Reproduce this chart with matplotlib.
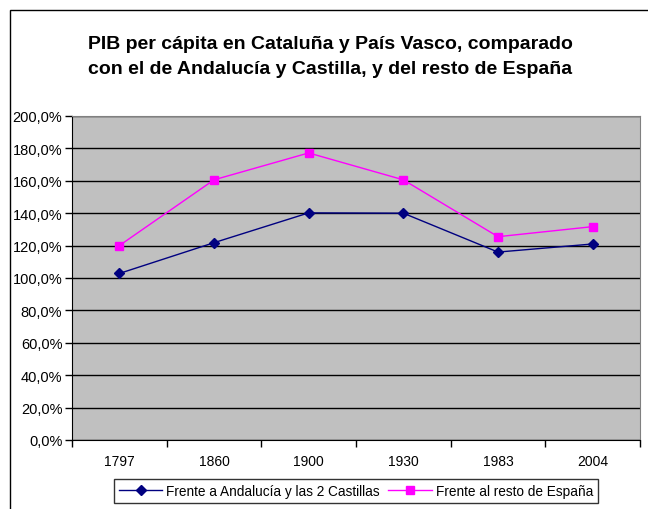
import matplotlib.pyplot as plt
from matplotlib.patches import Rectangle
from matplotlib.ticker import FuncFormatter, FixedLocator

plt.rcParams['font.family'] = ['Liberation Sans', 'DejaVu Sans']

anios = ['1797', '1860', '1900', '1930', '1983', '2004']
frente_andalucia_castillas = [102.8, 121.8, 140.2, 140.0, 116.0, 121.0]
frente_resto_espana = [120.0, 160.6, 177.2, 160.6, 125.5, 131.7]

nombre_serie1 = 'Frente a Andalucía y las 2 Castillas'
nombre_serie2 = 'Frente al resto de España'
titulo = 'PIB per cápita en Cataluña y País Vasco, comparado\ncon el de Andalucía y Castilla, y del resto de España'

fig = plt.figure(figsize=(6.48, 5.10), dpi=100)
fig.patch.set_facecolor('white')

# marco exterior del gráfico (se sale por la derecha y por abajo)
marco = Rectangle((10 / 648, -0.05), 1.0, 1 - 11 / 510 + 0.05, transform=fig.transFigure,
                  fill=False, edgecolor='black', linewidth=1.0)
fig.patches.append(marco)

ax = fig.add_axes([72 / 648, 1 - 441 / 510, (640 - 72) / 648, (441 - 117) / 510])
ax.set_facecolor('#C0C0C0')

x = list(range(len(anios)))
ax.plot(x, frente_andalucia_castillas, color='#000080', marker='D', markersize=5.5,
        linewidth=1.0, label=nombre_serie1, zorder=3)
ax.plot(x, frente_resto_espana, color='#FF00FF', marker='s', markersize=6,
        linewidth=1.0, label=nombre_serie2, zorder=3)

ax.set_xlim(-0.5, len(anios) - 0.5)
ax.set_ylim(0, 200)
ax.set_yticks(range(0, 201, 20))
ax.yaxis.set_major_formatter(FuncFormatter(lambda v, p: '{:.1f}%'.format(v).replace('.', ',')))
ax.yaxis.grid(True, color='black', linewidth=1.0)
ax.set_axisbelow(True)

# ticks en los limites de categoria, etiquetas en el centro
ax.xaxis.set_major_locator(FixedLocator([i - 0.5 for i in range(len(anios) + 1)]))
ax.xaxis.set_major_formatter(FuncFormatter(lambda v, p: ''))
ax.xaxis.set_minor_locator(FixedLocator(x))
ax.set_xticklabels(anios, minor=True)
ax.tick_params(axis='x', which='major', length=5, width=1, direction='out', color='black')
ax.tick_params(axis='x', which='minor', length=0, pad=10, labelsize=10)
ax.tick_params(axis='y', length=5, width=1, direction='out', color='black', labelsize=10.5, pad=2)

ax.spines['left'].set_color('black')
ax.spines['bottom'].set_color('black')
ax.spines['top'].set_color('#808080')
ax.spines['right'].set_color('#808080')

fig.text(330 / 648, 1 - 57 / 510, titulo, ha='center', va='center', fontsize=14,
         fontweight='bold', linespacing=1.62)

leg = fig.legend(loc='center', bbox_to_anchor=(356 / 648, 1 - 492 / 510), ncol=2,
                 fontsize=9.8, frameon=True, fancybox=False, edgecolor='black',
                 handlelength=3.2, handletextpad=0.3, columnspacing=0.6,
                 borderpad=0.35, borderaxespad=0)
leg.get_frame().set_linewidth(1.0)

fig.savefig('out.png', dpi=100)
